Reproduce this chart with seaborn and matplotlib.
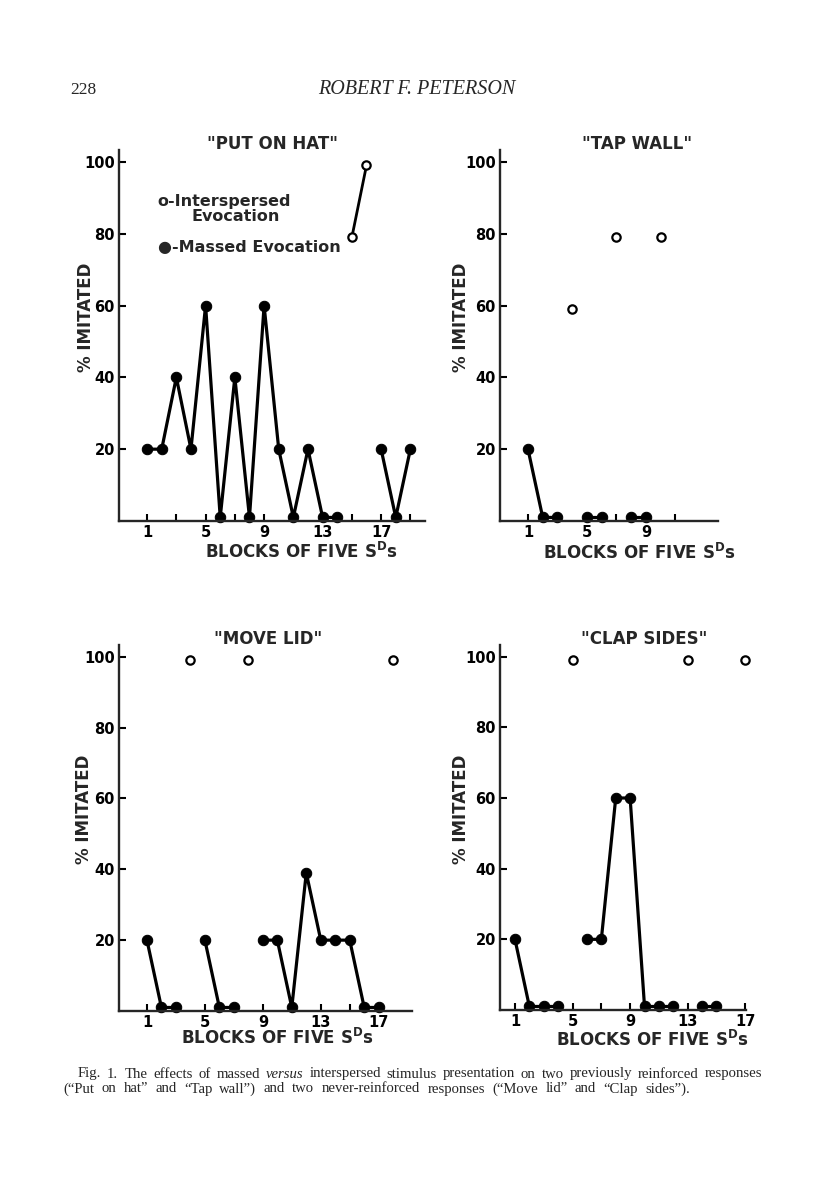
import numpy as np
import pandas as pd
import seaborn as sns
import matplotlib.pyplot as plt

# ---------------------------------------------------------------
# Data (blocks of five S^D presentations)
# zero responses are drawn at 1 so the dots sit on the axis
# ---------------------------------------------------------------
hat_massed_blocks = [1, 2, 3, 4, 5, 6, 7, 8, 9, 10, 11, 12, 13, 14, 17, 18, 19]
hat_massed = [20, 20, 40, 20, 60, 1, 40, 1, 60, 20, 1, 20, 1, 1, 20, 1, 20]
hat_inter_blocks = [15, 16]
hat_inter = [79, 99]

wall_massed_blocks = [1, 2, 3, 5, 6, 8, 9]
wall_massed = [20, 1, 1, 1, 1, 1, 1]
wall_inter_blocks = [4, 7, 10]
wall_inter = [59, 79, 79]

lid_massed_blocks = [1, 2, 3, 5, 6, 7, 9, 10, 11, 12, 13, 14, 15, 16, 17]
lid_massed = [20, 1, 1, 20, 1, 1, 20, 20, 1, 39, 20, 20, 20, 1, 1]
lid_inter_blocks = [4, 8, 18]
lid_inter = [99, 99, 99]

clap_massed_blocks = [1, 2, 3, 4, 6, 7, 8, 9, 10, 11, 12, 14, 15]
clap_massed = [20, 1, 1, 1, 20, 20, 60, 60, 1, 1, 1, 1, 1]
clap_inter_blocks = [5, 13, 17]
clap_inter = [99, 99, 99]

titles = ['"PUT ON HAT"', '"TAP WALL"', '"MOVE LID"', '"CLAP SIDES"']
y_ticks = [20, 40, 60, 80, 100]

caption_1 = ("Fig. 1. The effects of massed versus interspersed stimulus "
             "presentation on two previously reinforced responses")
caption_2 = ("(“Put on hat” and “Tap wall”) and two never-reinforced responses "
             "(“Move lid” and “Clap sides”).")

sns.set_style("ticks")
plt.rcParams["font.family"] = ["DejaVu Sans"]

W, H = 816, 1191
fig = plt.figure(figsize=(W / 100, H / 100), dpi=100)


def box(x0, x1, ytop, ybot):
    return [x0 / W, 1 - ybot / H, (x1 - x0) / W, (ybot - ytop) / H]


# pixel boxes of the four panels, x limits, ticks and text placement
panels = [
    dict(rect=box(119, 425, 150, 521), xlim=(-0.92, 20.0), minor=range(1, 20, 2),
         major=[1, 5, 9, 13, 17], tx=0.5, lx=0.595, ly=-31, ylx=-33,
         m=(hat_massed_blocks, hat_massed), i=(hat_inter_blocks, hat_inter)),
    dict(rect=box(500, 718, 150, 521), xlim=(-0.9, 13.9), minor=range(1, 12, 2),
         major=[1, 5, 9], tx=0.63, lx=0.64, ly=-32, ylx=-39,
         m=(wall_massed_blocks, wall_massed), i=(wall_inter_blocks, wall_inter)),
    dict(rect=box(119, 412, 645, 1011), xlim=(-0.93, 19.3), minor=range(1, 18, 2),
         major=[1, 5, 9, 13, 17], tx=0.51, lx=0.54, ly=-27, ylx=-35,
         m=(lid_massed_blocks, lid_massed), i=(lid_inter_blocks, lid_inter)),
    dict(rect=box(500, 746, 645, 1010), xlim=(-0.04, 17.05), minor=range(1, 18, 2),
         major=[1, 5, 9, 13, 17], tx=0.585, lx=0.62, ly=-30, ylx=-39,
         m=(clap_massed_blocks, clap_massed), i=(clap_inter_blocks, clap_inter)),
]


def frame(blocks, vals):
    df = pd.DataFrame({"block": blocks, "pct": vals})
    # consecutive blocks are joined, a gap starts a new segment
    df["seg"] = (df["block"].diff() != 1).cumsum()
    return df


for p, title in zip(panels, titles):
    ax = fig.add_axes(p["rect"])
    dm = frame(*p["m"])
    di = frame(*p["i"])
    sns.lineplot(data=dm, x="block", y="pct", units="seg", estimator=None,
                 color="black", lw=2.3, marker="o", markersize=7.5,
                 markeredgecolor="black", clip_on=False, legend=False, ax=ax)
    sns.lineplot(data=di, x="block", y="pct", units="seg", estimator=None,
                 color="black", lw=2.0, marker="o", markersize=6,
                 markerfacecolor="white", markeredgecolor="black",
                 markeredgewidth=1.6, clip_on=False, legend=False, ax=ax)

    ax.set_xlim(*p["xlim"])
    ax.set_ylim(0, 103.3)
    ax.set_yticks(y_ticks)
    ax.set_xticks(p["major"])
    ax.set_xticks([t for t in p["minor"] if t not in p["major"]], minor=True)
    for s in ["top", "right"]:
        ax.spines[s].set_visible(False)
    for s in ["left", "bottom"]:
        ax.spines[s].set_linewidth(1.7)
    ax.tick_params(which="both", direction="in", length=5, width=1.5,
                   labelsize=10.5, pad=3, colors="black")
    for lab in ax.get_xticklabels() + ax.get_yticklabels():
        lab.set_fontweight("bold")

    wpx = p["rect"][2] * W
    hpx = p["rect"][3] * H
    ax.set_ylabel("% IMITATED", fontsize=12, fontweight="bold", va="center")
    ax.yaxis.set_label_coords(p["ylx"] / wpx, 0.55)
    ax.set_xlabel(r"BLOCKS OF FIVE S$^\mathregular{D}$s", fontsize=12,
                  fontweight="bold", va="center")
    ax.xaxis.set_label_coords(p["lx"], p["ly"] / hpx)
    ax.text(p["tx"], 1 + 6 / hpx, title, transform=ax.transAxes, ha="center",
            va="center", fontsize=12, fontweight="bold")

    if title == titles[0]:
        kw = dict(transform=ax.transAxes, va="center", fontsize=11.5,
                  fontweight="bold")
        ax.text(0.127, 0.86, "o-Interspersed", **kw)
        ax.text(0.238, 0.82, "Evocation", **kw)
        ax.text(0.127, 0.738, "●-Massed Evocation", **kw)

# page header
fig.text(70 / W, 1 - 90 / H, "228", family="Liberation Serif", fontsize=12.5,
         va="center")
fig.text(417 / W, 1 - 90 / H, "ROBERT F. PETERSON", family="Liberation Serif",
         style="italic", fontsize=14.5, va="center", ha="center")

# justified caption lines
renderer = fig.canvas.get_renderer()


def justify(line, x0, x1, y):
    words = line.split(" ")
    texts = [fig.text(0, 1 - y / H, w, family="Liberation Serif", fontsize=10.6,
                      va="center", style="italic" if w == "versus" else "normal")
             for w in words]
    widths = [t.get_window_extent(renderer).width for t in texts]
    gap = (x1 - x0 - sum(widths)) / (len(words) - 1)
    x = x0
    for t, w in zip(texts, widths):
        t.set_x(x / W)
        x += w + gap


justify(caption_1, 78, 762, 1074)
justify(caption_2, 63, 690, 1089)

fig.savefig("out.png", dpi=100)
